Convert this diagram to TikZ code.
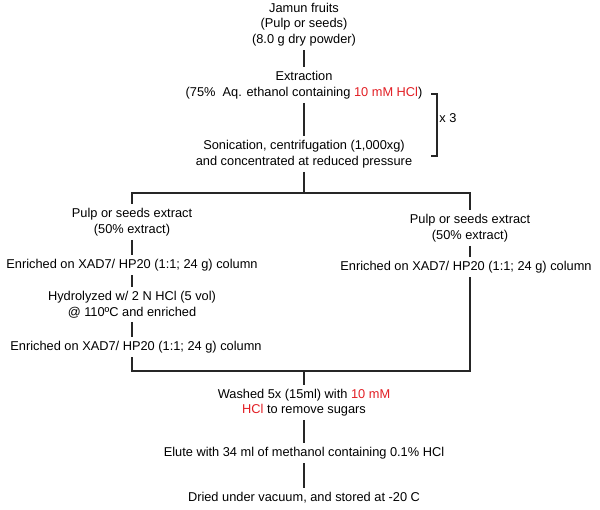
\documentclass[tikz,border=0pt]{standalone}
\usepackage{fontspec}
\setmainfont{Liberation Sans}
\definecolor{hclred}{RGB}{226,30,36}
\begin{document}
\begin{tikzpicture}[x=1pt,y=-1pt,
  every node/.style={font=\fontsize{12.8}{15.5}\selectfont},
  stepbox/.style={align=center,inner xsep=2pt,inner ysep=4pt},
  conn/.style={line width=1.3pt,black!85}]
\useasboundingbox (0,0) rectangle (600,509);
\node[stepbox] (jamun) at (304,24.5) {Jamun fruits\\(Pulp or seeds)\\(8.0 g dry powder)};
\node[stepbox] (extr) at (304,85) {Extraction\\(75\%\ \ Aq. ethanol containing \textcolor{hclred}{10 mM HCl})};
\node[stepbox] (sonic) at (304,154) {Sonication, centrifugation (1,000xg)\\and concentrated at reduced pressure};
\coordinate (split) at (304,193);
\coordinate (join) at (304,371);
\node[stepbox] (lpulp) at (132,222) {Pulp or seeds extract\\(50\% extract)};
\node[stepbox] (lenr1) at (132,265) {Enriched on XAD7/ HP20 (1:1; 24 g) column};
\node[stepbox] (lhyd) at (132,304.5) {Hydrolyzed w/ 2 N HCl (5 vol)\\@ 110ºC and enriched};
\node[stepbox] (lenr2) at (136,347) {Enriched on XAD7/ HP20 (1:1; 24 g) column};
\node[stepbox] (rpulp) at (470,228) {Pulp or seeds extract\\(50\% extract)};
\node[stepbox] (renr) at (466,267) {Enriched on XAD7/ HP20 (1:1; 24 g) column};
\node[stepbox] (washed) at (304,402.5) {Washed 5x (15ml) with \textcolor{hclred}{10 mM}\\\textcolor{hclred}{HCl} to remove sugars};
\node[stepbox] (elute) at (304,453) {Elute with 34 ml of methanol containing 0.1\% HCl};
\node[stepbox] (dried) at (304,498) {Dried under vacuum, and stored at -20 C};
\node[inner sep=1pt] (times) at (448,118) {x 3};
\draw[conn] (jamun) -- (extr);
\draw[conn] (extr) -- (sonic);
\draw[conn] (sonic) -- (split);
\draw[conn] (split) -| (lpulp);
\draw[conn] (split) -| (rpulp);
\draw[conn] (lpulp) -- (lenr1);
\draw[conn] (lenr1) -- (lhyd);
\draw[conn] (lhyd.south -| lenr2) ++(-4,0) -- (lenr2.north -| lhyd);
\draw[conn] (lenr2.south -| lhyd) -- (lhyd |- join) -- (join);
\draw[conn] (rpulp) -- (rpulp |- renr.north);
\draw[conn] (rpulp |- renr.south) -- (rpulp |- join) -- (join);
\draw[conn] (join) -- (washed);
\draw[conn] (washed) -- (elute);
\draw[conn] (elute) -- (dried);
\draw[conn] (431,94) -- (437,94) -- (437,156) -- (431,156);
\end{tikzpicture}
\end{document}
